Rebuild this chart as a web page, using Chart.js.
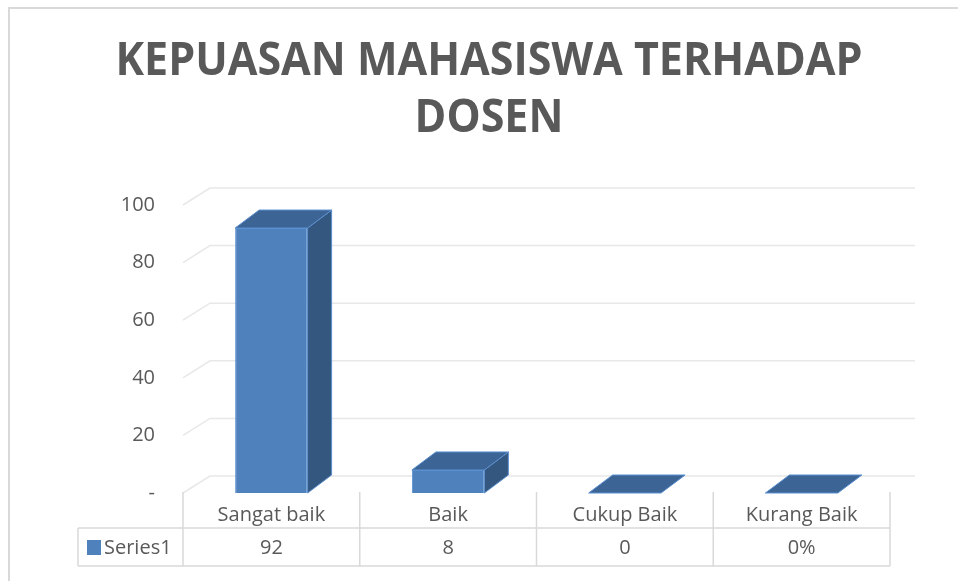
<!DOCTYPE html>
<html>
<head>
    <title>Kepuasan Mahasiswa Terhadap Dosen</title>
    <script src="https://cdn.jsdelivr.net/npm/chart.js@4.4.0/dist/chart.umd.min.js"></script>
    <style>
        body { margin: 0; padding: 0; background: #fff; overflow: hidden; }
    </style>
</head>
<body>
    <canvas id="grafik" width="958" height="581"></canvas>
    <script>
        // data grafik
        const kategori = ['Sangat baik', 'Baik', 'Cukup Baik', 'Kurang Baik'];
        const nilai = [92, 8, 0, 0];
        const labelTabel = ['92', '8', '0', '0%'];
        const namaSeri = 'Series1';
        const judul = ['KEPUASAN MAHASISWA TERHADAP', 'DOSEN'];
        const tickY = [0, 20, 40, 60, 80, 100];

        const abu = '#595959';
        const warnaGaris = '#d9d9d9';
        const huruf = '"Open Sans", "Noto Sans", sans-serif';

        function poligon(c, titik, isi) {
            c.beginPath();
            c.moveTo(titik[0][0], titik[0][1]);
            titik.slice(1).forEach(p => c.lineTo(p[0], p[1]));
            c.closePath();
            c.fillStyle = isi;
            c.fill();
            c.stroke();
        }

        // bingkai + judul
        const latar = {
            id: 'latar',
            beforeDraw(chart) {
                const c = chart.ctx;
                c.save();
                c.fillStyle = '#fff';
                c.fillRect(0, 0, chart.width, chart.height);
                c.strokeStyle = warnaGaris;
                c.lineWidth = 2;
                c.beginPath();
                c.moveTo(9, chart.height + 5);
                c.lineTo(9, 8);
                c.lineTo(chart.width + 5, 8);
                c.stroke();

                // judul dipadatkan supaya mirip Calibri
                c.fillStyle = abu;
                c.font = 'bold 46px ' + huruf;
                c.textAlign = 'center';
                c.textBaseline = 'middle';
                const sx = 747 / c.measureText(judul[0]).width;
                c.translate(489, 0);
                c.scale(sx, 1);
                c.fillText(judul[0], 0, 62);
                c.fillText(judul[1], 0, 119);
                c.restore();
            }
        };

        // garis grid 3D (dinding belakang)
        const grid3d = {
            id: 'grid3d',
            beforeDatasetsDraw(chart) {
                const c = chart.ctx;
                const a = chart.chartArea;
                const y = chart.scales.y;
                c.save();
                c.strokeStyle = '#e8e8e8';
                c.lineWidth = 1.5;
                tickY.forEach(v => {
                    const py = y.getPixelForValue(v);
                    c.beginPath();
                    c.moveTo(a.left, py);
                    c.lineTo(a.left + 27, py - 17);
                    c.lineTo(a.right + 25, py - 17);
                    c.stroke();
                });
                c.restore();
            }
        };

        // sisi atas dan kanan batang
        const batang3d = {
            id: 'batang3d',
            afterDatasetsDraw(chart) {
                const c = chart.ctx;
                const dx = 24, dy = -18;
                c.save();
                c.strokeStyle = '#5b8fd0';
                c.lineWidth = 1;
                chart.getDatasetMeta(0).data.forEach(bar => {
                    const p = bar.getProps(['x', 'y', 'base', 'width'], true);
                    const L = p.x - p.width / 2, R = p.x + p.width / 2;
                    if (p.base - p.y > 0.5) {
                        poligon(c, [[R, p.y], [R + dx, p.y + dy], [R + dx, p.base + dy], [R, p.base]], '#34577f');
                    }
                    poligon(c, [[L, p.y], [R, p.y], [R + dx, p.y + dy], [L + dx, p.y + dy]], '#3c6494');
                });
                c.restore();
            }
        };

        // tabel data di bawah grafik
        const tabel = {
            id: 'tabel',
            afterDraw(chart) {
                const c = chart.ctx;
                const a = chart.chartArea;
                const x = chart.scales.x;
                const lebar = (a.right - a.left) / kategori.length;
                const atas = a.bottom - 1, tengah = 528, bawah = 566, kiri = 78;
                c.save();
                c.strokeStyle = warnaGaris;
                c.lineWidth = 1.5;
                c.beginPath();
                for (let i = 0; i <= kategori.length; i++) {
                    const bx = a.left + i * lebar;
                    c.moveTo(bx, atas);
                    c.lineTo(bx, bawah);
                }
                c.moveTo(kiri, tengah); c.lineTo(a.right, tengah);
                c.moveTo(kiri, bawah); c.lineTo(a.right, bawah);
                c.moveTo(kiri, tengah); c.lineTo(kiri, bawah);
                c.stroke();

                c.fillStyle = abu;
                c.font = '20px ' + huruf;
                c.textAlign = 'center';
                c.textBaseline = 'middle';
                kategori.forEach((k, i) => {
                    const cx = x.getPixelForValue(i);
                    c.fillText(k, cx, 515);
                    c.fillText(labelTabel[i], cx, 548);
                });
                c.textAlign = 'left';
                c.fillText(namaSeri, 104, 548);
                c.fillStyle = '#4f81bd';
                c.fillRect(87, 540, 14, 15);
                c.restore();
            }
        };

        const ctx = document.getElementById('grafik').getContext('2d');
        new Chart(ctx, {
            type: 'bar',
            data: {
                labels: kategori,
                datasets: [{
                    label: namaSeri,
                    data: nilai,
                    backgroundColor: '#4f81bd',
                    borderColor: '#5b8fd0',
                    borderWidth: 1,
                    categoryPercentage: 1,
                    barPercentage: 0.41
                }]
            },
            options: {
                responsive: false,
                animation: false,
                layout: { padding: { left: 0, right: 68, top: 205, bottom: 88 } },
                plugins: {
                    legend: { display: false },
                    tooltip: { enabled: false }
                },
                scales: {
                    x: { display: false },
                    y: {
                        min: 0,
                        max: 100,
                        afterFit(s) { s.width = 183; },
                        border: { display: false },
                        grid: { display: false, drawTicks: false },
                        ticks: {
                            stepSize: 20,
                            padding: 28,
                            color: abu,
                            font: { family: huruf, size: 20 },
                            callback: v => v === 0 ? '-' : v
                        }
                    }
                }
            },
            plugins: [latar, grid3d, batang3d, tabel]
        });
    </script>
</body>
</html>
